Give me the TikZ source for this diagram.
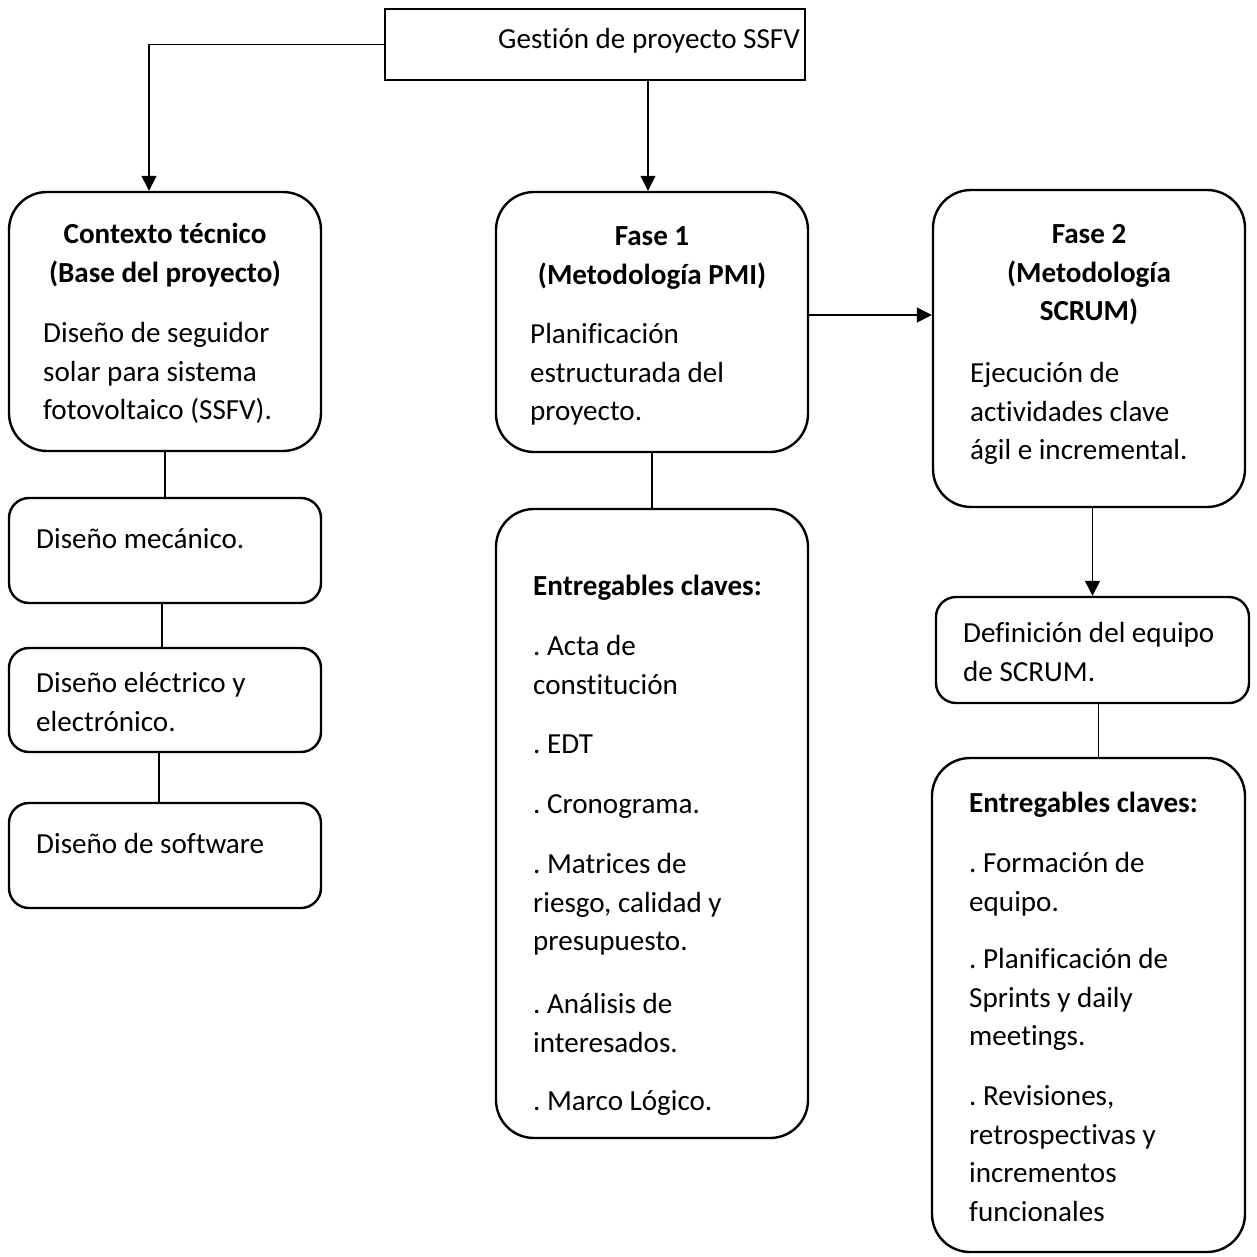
\documentclass[tikz,border=0pt]{standalone}
\usepackage{fontspec}
\setmainfont{Carlito}[Ligatures={NoCommon}]
\usetikzlibrary{arrows.meta}
\frenchspacing
\newcommand\bodyfont{\fontsize{29.1}{38.8}\selectfont\frenchspacing}
\newcommand\tstrut{\rule{0pt}{24pt}}
\tikzset{
  sqbox/.style={draw, line width=2.4pt, inner sep=0pt},
  bigbox/.style={draw, line width=2.4pt, rounded corners=38pt, inner sep=0pt, minimum width=312pt},
  smallbox/.style={draw, line width=2.4pt, rounded corners=20pt, inner sep=0pt, minimum width=312pt},
  para/.style={anchor=north west, inner sep=0pt, align=left, font=\bodyfont},
  title/.style={anchor=north, inner sep=0pt, align=center, font=\bodyfont\bfseries},
  conn/.style={line width=1.3pt},
  arr/.style={line width=1.3pt, -{Triangle[length=15pt,width=15pt]}}
}
\begin{document}
\begin{tikzpicture}[x=1pt,y=-1pt]
\useasboundingbox (0,0) rectangle (1256,1257);
% boxes
\node[sqbox, minimum width=420pt, minimum height=71pt] (top) at (595,44.5) {};
\node[bigbox, minimum height=259pt] (ctx) at (165,321.5) {};
\node[smallbox, minimum height=105pt] (mech) at (165,550.5) {};
\node[smallbox, minimum height=104pt] (elec) at (165,700) {};
\node[smallbox, minimum height=105pt] (soft) at (165,855.5) {};
\node[bigbox, minimum height=260pt] (f1) at (652,322) {};
\node[bigbox, minimum height=629pt] (e1) at (652,823.5) {};
\node[bigbox, minimum height=317pt] (f2) at (1089,348.5) {};
\node[smallbox, minimum width=313pt, minimum height=106pt] (def) at (1092.5,650) {};
\node[bigbox, minimum width=313pt, minimum height=494pt] (e2) at (1088.5,1005) {};
% texts
\node[para] (tTop) at (498,24) {\tstrut Gestión de proyecto SSFV};
\node[title] (tCtxT) at (165,219) {\tstrut Contexto técnico\\(Base del proyecto)};
\node[para] (tCtxB) at (43,318) {\tstrut Diseño de seguidor\\solar para sistema\\fotovoltaico (SSFV).};
\node[title] (tF1T) at (652,221) {\tstrut Fase 1\\(Metodología PMI)};
\node[para] (tF1B) at (530,319) {\tstrut Planificación\\estructurada del\\proyecto.};
\node[title] (tF2T) at (1089,219) {\tstrut Fase 2\\(Metodología\\SCRUM)};
\node[para] (tF2B) at (970,358) {\tstrut Ejecución de\\actividades clave\\ágil e incremental.};
\node[para] (tMech) at (36,524) {\tstrut Diseño mecánico.};
\node[para] (tElec) at (36,668) {\tstrut Diseño eléctrico y\\electrónico.};
\node[para] (tSoft) at (36,829) {\tstrut Diseño de software};
\node[para, font=\bodyfont\bfseries] (tE1H) at (533,571) {\tstrut Entregables claves:};
\node[para] (tE1a) at (533,631) {\tstrut . Acta de\\constitución};
\node[para] (tE1b) at (533,729) {\tstrut . EDT};
\node[para] (tE1c) at (533,789) {\tstrut . Cronograma.};
\node[para] (tE1d) at (533,849) {\tstrut . Matrices de\\riesgo, calidad y\\presupuesto.};
\node[para] (tE1e) at (533,989) {\tstrut . Análisis de\\interesados.};
\node[para] (tE1f) at (533,1086) {\tstrut . Marco Lógico.};
\node[para] (tDef) at (963,618) {\tstrut Definición del equipo\\de SCRUM.};
\node[para, font=\bodyfont\bfseries] (tE2H) at (969,788) {\tstrut Entregables claves:};
\node[para] (tE2a) at (969,848) {\tstrut . Formación de\\equipo.};
\node[para] (tE2b) at (969,944) {\tstrut . Planificación de\\Sprints y daily\\meetings.};
\node[para] (tE2c) at (969,1081) {\tstrut . Revisiones,\\retrospectivas y\\incrementos\\funcionales};
% connectors
\draw[arr] (top.west) -| ([xshift=-16pt]ctx.north);
\draw[arr] ([xshift=-4pt]f1.north |- top.south) -- ([xshift=-4pt]f1.north);
\draw[arr] ([yshift=7pt]f1.east) -- ([yshift=7pt]f1.east -| f2.west);
\draw[arr] (f2.south -| def.north) -- (def.north);
\draw[conn] ([xshift=6pt]def.south) -- ([xshift=6pt]def.south |- e2.north);
\draw[conn] (ctx.south) -- (mech.north);
\draw[conn] ([xshift=-3pt]mech.south) -- ([xshift=-3pt]mech.south |- elec.north);
\draw[conn] ([xshift=-6pt]elec.south) -- ([xshift=-6pt]elec.south |- soft.north);
\draw[conn] (f1.south) -- (e1.north);
\end{tikzpicture}
\end{document}
